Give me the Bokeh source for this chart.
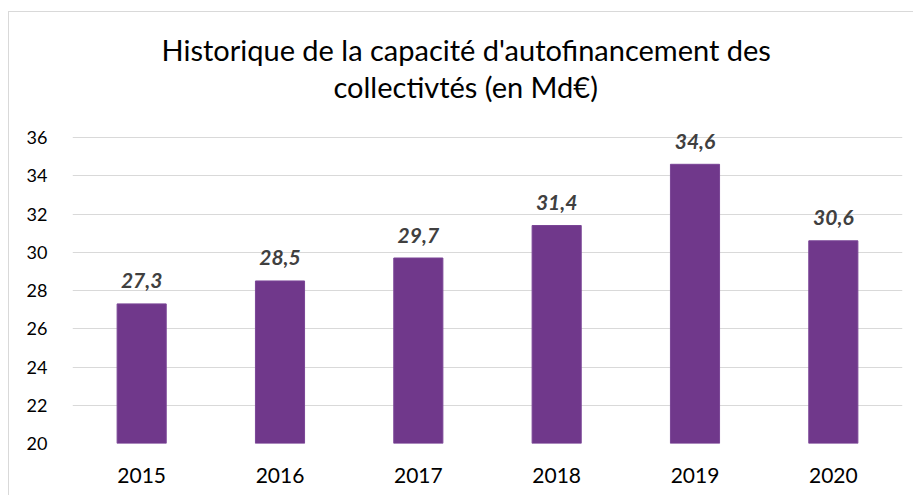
from bokeh.plotting import figure
from bokeh.models import ColumnDataSource, FixedTicker, Range1d, Title
from bokeh.core.properties import value
from bokeh.embed import file_html
from bokeh.resources import INLINE

years = ["2015", "2016", "2017", "2018", "2019", "2020"]
caf = [27.3, 28.5, 29.7, 31.4, 34.6, 30.6]
labels = ["27,3", "28,5", "29,7", "31,4", "34,6", "30,6"]
y_ticks = [20, 22, 24, 26, 28, 30, 32, 34, 36]
title_lines = ["Historique de la capacité d'autofinancement des", "collectivtés (en Md€)"]

src = ColumnDataSource(dict(year=years, caf=caf, label=labels))

p = figure(x_range=years, y_range=Range1d(20, 37.78), width=905, height=484,
           output_backend="svg", toolbar_location=None,
           min_border_left=63, min_border_right=12, min_border_top=91, min_border_bottom=53)
p.styles = {"border-left": "1px solid #d9d9d9", "border-top": "1px solid #d9d9d9",
            "margin-top": "11px", "margin-left": "8px"}
p.outline_line_color = None
p.background_fill_color = "white"
p.border_fill_color = "white"

p.vbar(x="year", top="caf", bottom=20, width=0.355, source=src,
       fill_color="#70388B", line_color="#7A4596", line_width=1)
p.text(x="year", y="caf", text="label", source=src, text_align="center",
       text_baseline="alphabetic", y_offset=-23, text_font=value("Lato"),
       text_font_style="bold italic", text_font_size="21px", text_color="#404040")

p.yaxis.ticker = FixedTicker(ticks=y_ticks)
p.ygrid.ticker = FixedTicker(ticks=y_ticks)
p.xgrid.grid_line_color = None
p.ygrid.grid_line_color = "#d9d9d9"
p.ygrid.grid_line_width = 1

for ax in (p.xaxis, p.yaxis):
    ax.axis_line_color = None
    ax.major_tick_line_color = None
    ax.minor_tick_line_color = None
    ax.major_label_text_font = "Lato"
    ax.major_label_text_color = "#000000"
p.yaxis.major_label_standoff = 19
p.yaxis.major_label_text_font_size = "18px"
p.xaxis.major_label_text_font_size = "21px"
p.xaxis.major_label_standoff = 18

# lines added nearest-to-frame first
for line, off in zip(reversed(title_lines), [261, 89]):
    p.add_layout(Title(text=line, align="left", offset=off, standoff=0,
                       text_font="Lato", text_font_size="29px",
                       text_font_style="normal", text_color="#000000"), "above")

open("out.html", "w").write(file_html(p, INLINE))
